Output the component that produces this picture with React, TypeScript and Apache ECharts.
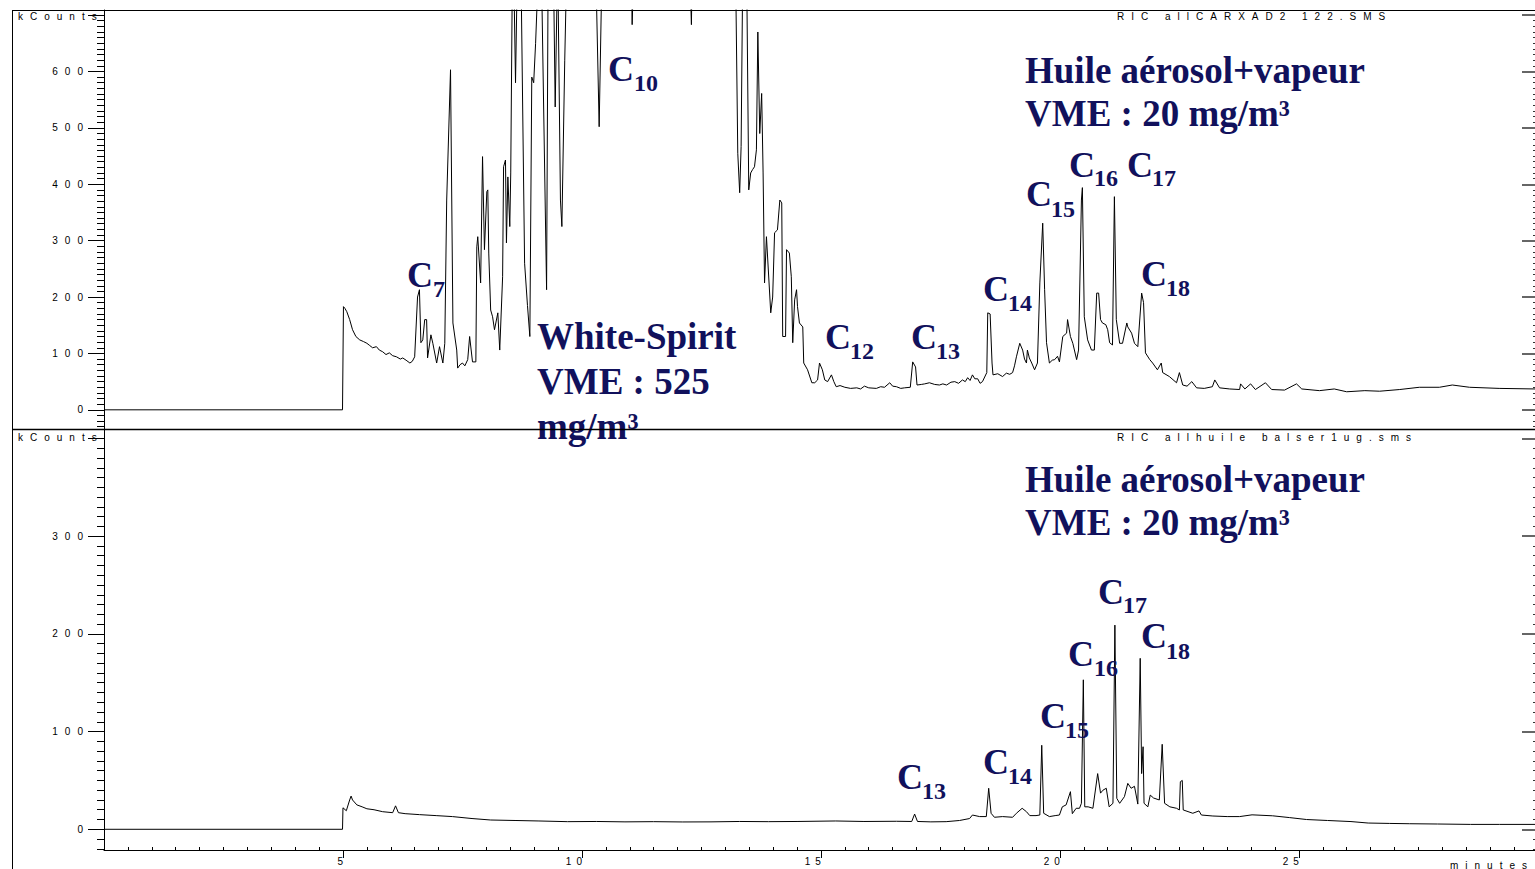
import React, { useEffect, useRef } from "react";
import * as echarts from "echarts";

// ---------- DATA ----------
// Top chromatogram (RIC allCARXAD2 122.SMS): [minutes, kCounts]
const topTrace: number[][] = [
  [0, 0], [4.99, 0], [5.01, 183], [5.04, 180], [5.08, 174], [5.14, 160], [5.2, 142], [5.27, 130], [5.35, 124],
  [5.43, 121], [5.5, 118], [5.56, 114], [5.62, 110], [5.7, 112], [5.76, 106], [5.83, 103], [5.9, 98], [5.97, 101],
  [6.04, 96], [6.12, 94], [6.2, 90], [6.25, 92], [6.32, 88], [6.4, 83], [6.45, 86], [6.5, 94], [6.56, 200],
  [6.6, 213], [6.63, 119], [6.67, 124], [6.71, 160], [6.75, 160], [6.77, 92], [6.84, 133], [6.88, 118], [6.96, 83],
  [7.02, 112], [7.09, 83], [7.13, 118], [7.17, 372], [7.25, 603], [7.3, 154], [7.38, 106], [7.4, 74], [7.45, 80],
  [7.5, 83], [7.55, 78], [7.61, 89], [7.65, 130], [7.71, 85], [7.78, 85], [7.8, 289], [7.82, 307], [7.88, 225],
  [7.92, 449], [7.96, 284], [8.01, 387], [8.03, 390], [8.05, 278], [8.09, 177], [8.13, 165], [8.17, 142],
  [8.24, 172], [8.28, 106], [8.34, 236], [8.36, 431], [8.4, 443], [8.42, 296], [8.45, 413], [8.49, 325],
  [8.51, 420], [8.54, 730], [8.58, 740], [8.61, 580], [8.64, 740], [8.73, 740], [8.8, 260], [8.86, 185],
  [8.91, 130], [8.95, 590], [8.99, 580], [9.03, 650], [9.07, 740], [9.16, 740], [9.26, 213], [9.29, 740],
  [9.41, 740], [9.44, 537], [9.48, 740], [9.5, 740], [9.55, 372], [9.58, 325], [9.64, 620], [9.67, 740],
  [10.3, 740], [10.36, 502], [10.41, 740], [11.04, 740], [11.05, 683], [11.07, 740], [12.27, 740], [12.29, 683],
  [12.3, 740], [13.22, 740], [13.26, 455], [13.3, 385], [13.33, 467], [13.36, 740], [13.45, 740], [13.49, 390],
  [13.53, 420], [13.57, 426], [13.61, 431], [13.65, 461], [13.68, 670], [13.72, 490], [13.76, 561], [13.79, 420],
  [13.82, 225], [13.86, 307], [13.95, 172], [13.99, 200], [14.03, 314], [14.09, 319], [14.14, 372], [14.18, 367],
  [14.2, 130], [14.26, 130], [14.28, 284], [14.34, 278], [14.38, 236], [14.41, 119], [14.45, 195], [14.49, 213],
  [14.51, 183], [14.55, 154], [14.62, 147], [14.64, 83], [14.72, 71], [14.81, 48], [14.87, 48], [14.93, 53],
  [14.97, 83], [15.03, 71], [15.08, 53], [15.14, 50], [15.22, 62], [15.27, 50], [15.32, 41], [15.4, 43],
  [15.5, 40], [15.62, 38], [15.75, 39], [15.83, 37], [15.91, 42], [16.0, 39], [16.16, 38], [16.25, 41],
  [16.33, 40], [16.44, 48], [16.5, 42], [16.58, 41], [16.67, 38], [16.75, 39], [16.87, 40], [16.92, 85],
  [16.98, 76], [17.01, 44], [17.1, 45], [17.17, 46], [17.27, 48], [17.38, 45], [17.48, 44], [17.55, 46],
  [17.63, 44], [17.72, 49], [17.8, 50], [17.88, 47], [17.96, 53], [18.02, 50], [18.07, 57], [18.12, 52],
  [18.17, 62], [18.22, 55], [18.28, 55], [18.33, 47], [18.38, 50], [18.47, 66], [18.49, 172], [18.54, 170],
  [18.58, 83], [18.6, 62], [18.7, 64], [18.8, 59], [18.88, 65], [18.95, 63], [19.01, 66], [19.05, 78],
  [19.09, 94], [19.16, 118], [19.22, 106], [19.26, 90], [19.3, 83], [19.32, 106], [19.36, 92], [19.41, 83],
  [19.47, 71], [19.53, 83], [19.58, 225], [19.64, 331], [19.68, 213], [19.72, 119], [19.78, 83], [19.84, 88],
  [19.89, 89], [19.95, 95], [19.99, 85], [20.06, 130], [20.14, 136], [20.16, 160], [20.22, 130], [20.27, 118],
  [20.35, 89], [20.39, 106], [20.45, 372], [20.47, 394], [20.51, 165], [20.58, 124], [20.66, 106], [20.72, 106],
  [20.77, 207], [20.81, 207], [20.85, 160], [20.89, 154], [20.96, 151], [21.0, 142], [21.04, 119], [21.1, 115],
  [21.14, 378], [21.18, 160], [21.25, 118], [21.31, 118], [21.4, 154], [21.42, 147], [21.5, 136], [21.56, 118],
  [21.63, 112], [21.71, 207], [21.75, 190], [21.79, 101], [21.88, 89], [21.94, 83], [22.04, 71], [22.12, 83],
  [22.15, 66], [22.29, 59], [22.44, 48], [22.5, 66], [22.57, 44], [22.66, 42], [22.76, 50], [22.86, 39],
  [23.02, 38], [23.19, 41], [23.24, 53], [23.34, 39], [23.55, 37], [23.76, 36], [23.78, 46], [23.87, 37],
  [23.99, 46], [24.09, 36], [24.3, 48], [24.43, 36], [24.7, 35], [24.95, 46], [25.06, 37], [25.43, 34],
  [25.74, 37], [26.0, 32], [26.38, 34], [26.69, 33], [27.11, 36], [27.52, 40], [27.94, 40], [28.21, 44],
  [28.57, 40], [29.19, 38], [29.94, 37],
];

// Bottom chromatogram (RIC allhuile balser1ug.sms): [minutes, kCounts]
const bottomTrace: number[][] = [
  [0, 0], [4.99, 0], [5.0, 22], [5.07, 19], [5.14, 30], [5.17, 34], [5.2, 30], [5.29, 25], [5.4, 23], [5.5, 21],
  [5.65, 20], [5.83, 18], [6.04, 17], [6.1, 24], [6.16, 17], [6.3, 16], [6.6, 15], [6.95, 14], [7.29, 13],
  [7.7, 11], [8.09, 9.5], [8.6, 9], [9.1, 8.5], [9.7, 7.8], [10.3, 8], [10.9, 7.6], [11.5, 7.8], [12.11, 7.5],
  [12.7, 7.6], [13.3, 8], [13.9, 7.8], [14.5, 8], [15.31, 8.5], [15.9, 8], [16.58, 8.2], [16.9, 8], [16.96, 15.6],
  [17.02, 8], [17.3, 7.6], [17.62, 7.8], [17.9, 9], [18.11, 11], [18.17, 14.6], [18.32, 13], [18.46, 13],
  [18.51, 42], [18.56, 16.4], [18.63, 12.3], [18.8, 13], [19.01, 12.3], [19.09, 16.4], [19.21, 21.5], [19.3, 18],
  [19.37, 14], [19.5, 14], [19.58, 14.6], [19.62, 86], [19.66, 16.4], [19.78, 13], [19.9, 14], [19.99, 14.6],
  [20.05, 23], [20.13, 25], [20.22, 38.5], [20.26, 16], [20.34, 21.5], [20.41, 21.5], [20.45, 26.6], [20.49, 153],
  [20.52, 23], [20.59, 23], [20.69, 21.5], [20.79, 57], [20.85, 37], [20.9, 40], [20.97, 42], [21.03, 23],
  [21.11, 26.6], [21.15, 209], [21.19, 31.7], [21.25, 26.6], [21.35, 33.4], [21.42, 47], [21.49, 42], [21.56, 44],
  [21.63, 25.8], [21.68, 175], [21.71, 57], [21.74, 84.5], [21.76, 26.6], [21.84, 23], [21.89, 35], [21.96, 32],
  [22.08, 30], [22.14, 87], [22.19, 26.6], [22.3, 23], [22.44, 21.5], [22.5, 19.8], [22.52, 48.7], [22.56, 50],
  [22.58, 19.8], [22.78, 16.4], [22.91, 18.8], [22.96, 14.6], [23.2, 13.6], [23.5, 13], [23.76, 13], [24.02, 14.8],
  [24.45, 13.8], [24.8, 12], [25.16, 10], [25.6, 9], [26.09, 7.9], [26.45, 6.4], [26.9, 6], [27.31, 5.7],
  [27.9, 5.4], [28.59, 5], [29.2, 5], [29.94, 5],
];

const xLabelValues = [5, 10, 15, 20, 25];
const topMajorTicks = [0, 100, 200, 300, 400, 500, 600, 700];
const topLabelValues = [0, 100, 200, 300, 400, 500, 600];
const bottomMajorTicks = [0, 100, 200, 300, 400];
const bottomLabelValues = [0, 100, 200, 300];

const topPeakNames = ["7", "10", "12", "13", "14", "15", "16", "17", "18"];
const bottomPeakNames = ["13", "14", "15", "16", "17", "18"];
const oilText = ["Huile aérosol+vapeur", "VME : 20 mg/m³"];
const whiteSpiritText = ["White-Spirit", "VME : 525", "mg/m³"];
const topFileName = "RIC allCARXAD2 122.SMS";
const bottomFileName = "RIC allhuile balser1ug.sms";
const yName = "kCounts";
const xName = "minutes";

// ---------- LAYOUT ----------
const W = 1535;
const H = 869;
const X_MAX = 29.94;
const TOP_MIN = -34;
const TOP_MAX = 709;
const BOT_MIN = -21.2;
const BOT_MAX = 408.7;

// pixel positions for "C" + subscript labels: [cX, cY, subX, subY]
const topPeakPos = [
  [407, 275, 433, 289], [608, 69, 634, 83], [825, 337, 850, 351], [911, 337, 936, 351],
  [983, 289, 1008, 303], [1026, 194, 1051, 209], [1069, 165, 1094, 178], [1127, 165, 1152, 178],
  [1141, 274, 1166, 288],
];
const bottomPeakPos = [
  [897, 777, 922, 791], [983, 762, 1008, 776], [1040, 716, 1065, 730], [1068, 654, 1094, 668],
  [1098, 592, 1123, 605], [1141, 636, 1166, 651],
];

const SERIF = '"Liberation Serif", "Times New Roman", serif';
const SANS = '"Liberation Sans", Arial, sans-serif';
const NAVY = "#11115c";

function spaced(s: string, gap = "\u2002\u2009"): string {
  return s.split("").join(gap);
}

function range(a: number, b: number, step: number, skip: number[] = []): number[] {
  const out: number[] = [];
  for (let v = a; v <= b + 1e-9; v += step) {
    const r = Math.round(v * 100) / 100;
    if (!skip.includes(r)) out.push(r);
  }
  return out;
}

function text(t: string, x: number, y: number, font: string, fill: string, z = 100) {
  return {
    type: "text",
    x,
    y,
    z,
    silent: true,
    style: {
      text: t,
      font,
      fill,
      align: "left",
      verticalAlign: "middle",
      textAlign: "left",
      textVerticalAlign: "middle",
    },
  };
}

function line(x1: number, y1: number, x2: number, y2: number, w = 1, z = 120) {
  return {
    type: "line",
    z,
    silent: true,
    shape: { x1, y1, x2, y2 },
    style: { stroke: "#000", lineWidth: w },
  };
}

function yAxes(gridIndex: number, min: number, max: number, major: number[], labels: number[], minor: number[]) {
  const base = {
    gridIndex,
    type: "value",
    min,
    max,
    splitLine: { show: false },
  };
  return [
    {
      ...base,
      position: "left",
      axisLine: { show: true, onZero: false, lineStyle: { color: "#000", width: 1 } },
      axisTick: { show: true, customValues: major, length: 16, inside: false, lineStyle: { color: "#000", width: 1 } },
      axisLabel: {
        show: true,
        customValues: labels,
        formatter: (v: number) => spaced(String(v)),
        margin: 21,
        color: "#000",
        fontFamily: SANS,
        fontSize: 10,
      },
    },
    {
      ...base,
      position: "left",
      axisLine: { show: false, onZero: false },
      axisTick: { show: true, customValues: minor, length: 7, inside: false, lineStyle: { color: "#000", width: 1 } },
      axisLabel: { show: false },
    },
    {
      ...base,
      position: "right",
      axisLine: { show: false, onZero: false },
      axisTick: { show: true, customValues: major, length: 13, inside: true, lineStyle: { color: "#333", width: 1.5 } },
      axisLabel: { show: false },
    },
    {
      ...base,
      position: "right",
      axisLine: { show: false, onZero: false },
      axisTick: { show: true, customValues: minor, length: 2, inside: true, lineStyle: { color: "#333", width: 1 } },
      axisLabel: { show: false },
    },
  ];
}

export default function App() {
  const ref = useRef<HTMLDivElement>(null);

  useEffect(() => {
    if (!ref.current) return;
    const chart = echarts.init(ref.current, undefined, { renderer: "svg", width: W, height: H });

    const xMinor = range(0.5, 29.5, 0.5, xLabelValues);
    const topMinor = range(-30, 700, 10, topMajorTicks);
    const botMinor = range(-20, 400, 10, bottomMajorTicks);

    const graphics: any[] = [];
    // frame
    graphics.push(line(12.5, 10, 12.5, H, 1));
    graphics.push(line(12, 10.5, W, 10.5, 1));
    graphics.push(line(12, 429.5, W, 429.5, 1.5));

    // small header texts
    const small = `10px ${SANS}`;
    graphics.push(text(spaced(yName), 18, 16, small, "#000"));
    graphics.push(text(spaced(yName), 18, 437, small, "#000"));
    graphics.push(text(spaced(topFileName), 1117, 16, small, "#000"));
    graphics.push(text(spaced(bottomFileName), 1117, 437, small, "#000"));
    graphics.push(text(spaced(xName), 1450, 865, small, "#000"));

    // annotations
    const big = `bold 37px ${SERIF}`;
    const cFont = `bold 36px ${SERIF}`;
    const sub = `bold 24px ${SERIF}`;
    graphics.push(text(oilText[0], 1025, 70, big, NAVY));
    graphics.push(text(oilText[1], 1025, 113, big, NAVY));
    graphics.push(text(oilText[0], 1025, 479, big, NAVY));
    graphics.push(text(oilText[1], 1025, 522, big, NAVY));
    graphics.push(text(whiteSpiritText[0], 537, 336, big, NAVY));
    graphics.push(text(whiteSpiritText[1], 537, 381, big, NAVY));
    graphics.push(text(whiteSpiritText[2], 537, 426, big, NAVY));

    topPeakNames.forEach((n, i) => {
      const p = topPeakPos[i];
      graphics.push(text("C", p[0], p[1], cFont, NAVY));
      graphics.push(text(n, p[2], p[3], sub, NAVY));
    });
    bottomPeakNames.forEach((n, i) => {
      const p = bottomPeakPos[i];
      graphics.push(text("C", p[0], p[1], cFont, NAVY));
      graphics.push(text(n, p[2], p[3], sub, NAVY));
    });

    const option: any = {
      animation: false,
      backgroundColor: "#fff",
      grid: [
        { left: 104, top: 10, width: W - 104, height: 419, containLabel: false, outerBoundsMode: "none" },
        { left: 104, top: 430, width: W - 104, height: 420, containLabel: false, outerBoundsMode: "none" },
      ],
      xAxis: [
        { gridIndex: 0, type: "value", min: 0, max: X_MAX, show: false, splitLine: { show: false } },
        {
          gridIndex: 1,
          type: "value",
          min: 0,
          max: X_MAX,
          position: "bottom",
          splitLine: { show: false },
          axisLine: { show: true, onZero: false, lineStyle: { color: "#000", width: 1 } },
          axisTick: { show: true, customValues: xLabelValues, length: 8, inside: false, lineStyle: { color: "#000", width: 1 } },
          axisLabel: {
            show: true,
            customValues: xLabelValues,
            formatter: (v: number) => spaced(String(v), "\u2002"),
            align: "right",
            margin: 6,
            color: "#000",
            fontFamily: SANS,
            fontSize: 10,
          },
        },
        {
          gridIndex: 1,
          type: "value",
          min: 0,
          max: X_MAX,
          position: "bottom",
          splitLine: { show: false },
          axisLine: { show: false, onZero: false },
          axisTick: { show: true, customValues: xMinor, length: 3, inside: true, lineStyle: { color: "#000", width: 1 } },
          axisLabel: { show: false },
        },
      ],
      yAxis: [
        ...yAxes(0, TOP_MIN, TOP_MAX, topMajorTicks, topLabelValues, topMinor),
        ...yAxes(1, BOT_MIN, BOT_MAX, bottomMajorTicks, bottomLabelValues, botMinor),
      ],
      series: [
        {
          type: "line",
          xAxisIndex: 0,
          yAxisIndex: 0,
          data: topTrace,
          symbol: "none",
          showSymbol: false,
          clip: true,
          silent: true,
          lineStyle: { color: "#000", width: 1 },
        },
        {
          type: "line",
          xAxisIndex: 1,
          yAxisIndex: 4,
          data: bottomTrace,
          symbol: "none",
          showSymbol: false,
          clip: true,
          silent: true,
          lineStyle: { color: "#000", width: 1 },
        },
      ],
      graphic: { elements: graphics },
    };

    chart.setOption(option);
    return () => chart.dispose();
  }, []);

  return (
    <div
      ref={ref}
      style={{ position: "fixed", left: 0, top: 0, width: W, height: H, background: "#fff" }}
    />
  );
}
